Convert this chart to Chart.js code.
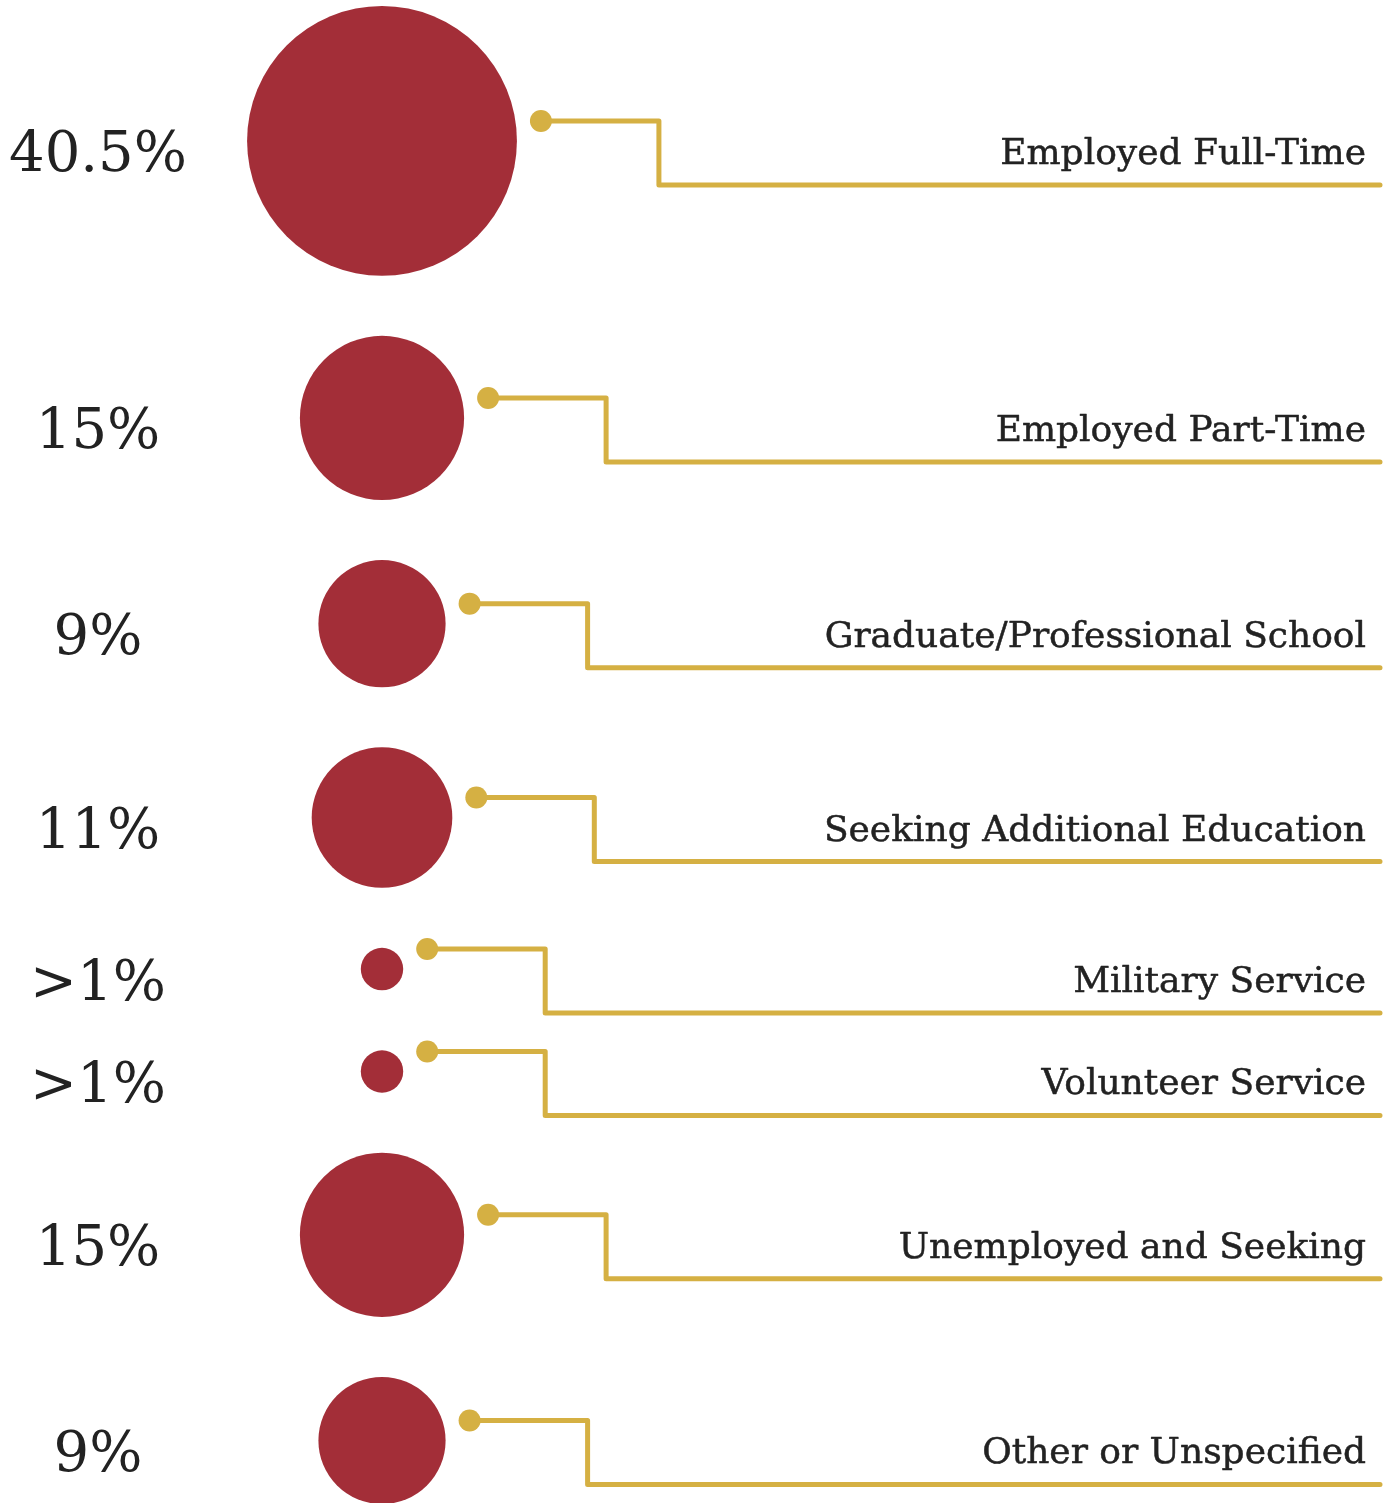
<!DOCTYPE html>
<html>
<head>
    <title>Graduate Outcomes</title>
    <script src="https://cdn.jsdelivr.net/npm/chart.js"></script>
    <style>
        body { margin: 0; background: #fff; }
        #wrap { width: 1392px; height: 1503px; position: relative; }
    </style>
</head>
<body>
    <div id="wrap"><canvas id="myChart"></canvas></div>
    <script>
        var categories = ['Employed Full-Time', 'Employed Part-Time', 'Graduate/Professional School',
            'Seeking Additional Education', 'Military Service', 'Volunteer Service',
            'Unemployed and Seeking', 'Other or Unspecified'];
        var percents = [40.5, 15, 9, 11, 1, 1, 15, 9];
        var percentLabels = ['40.5%', '15%', '9%', '11%', '>1%', '>1%', '15%', '9%'];

        var RED = '#a32e38', GOLD = '#d5b043', INK = '#222222';
        var W = 1392, H = 1503;
        var COL_X = 382;    // x of the bubble column
        var GAP = 60;       // space between neighbouring bubbles
        var R_UNIT = 21.2;  // radius of a 1% bubble (area follows the value)

        // stack the bubbles top to bottom
        var radii = percents.map(function(v) { return R_UNIT * Math.sqrt(v); });
        var ys = [];
        var cur = 6;
        radii.forEach(function(r) { cur += r; ys.push(cur); cur += r + GAP; });

        var connectors = {
            id: 'connectors',
            afterDatasetsDraw: function(chart) {
                var ctx = chart.ctx;
                var meta = chart.getDatasetMeta(0);
                meta.data.forEach(function(pt, i) {
                    var r = radii[i];
                    var dx = pt.x + r + 24, dy = pt.y - 20;
                    var stepX = dx + 118, lowY = dy + 64, endX = W - 12;
                    ctx.save();
                    ctx.strokeStyle = GOLD;
                    ctx.lineWidth = 5;
                    ctx.lineJoin = 'round';
                    ctx.lineCap = 'round';
                    ctx.beginPath();
                    ctx.moveTo(dx, dy);
                    ctx.lineTo(stepX, dy);
                    ctx.lineTo(stepX, lowY);
                    ctx.lineTo(endX, lowY);
                    ctx.stroke();
                    ctx.fillStyle = GOLD;
                    ctx.beginPath();
                    ctx.arc(dx, dy, 11, 0, 2 * Math.PI);
                    ctx.fill();

                    // category name, right aligned above the lower line
                    ctx.fillStyle = INK;
                    ctx.strokeStyle = INK;
                    ctx.lineWidth = 0.5;
                    ctx.font = '36px "DejaVu Serif"';
                    ctx.textAlign = 'right';
                    ctx.textBaseline = 'alphabetic';
                    ctx.fillText(categories[i], W - 26, lowY - 21);
                    ctx.strokeText(categories[i], W - 26, lowY - 21);

                    // percentage on the left
                    ctx.font = '56px "DejaVu Serif"';
                    ctx.textAlign = 'center';
                    ctx.textBaseline = 'middle';
                    ctx.fillText(percentLabels[i], 98, pt.y + 16);
                    ctx.restore();
                });
            }
        };

        var ctx = document.getElementById('myChart').getContext('2d');
        var myChart = new Chart(ctx, {
            type: 'bubble',
            data: {
                labels: categories,
                datasets: [{
                    label: 'Outcome',
                    data: percents.map(function(v, i) { return { x: COL_X, y: ys[i], r: radii[i] }; }),
                    backgroundColor: RED,
                    borderWidth: 0,
                    clip: false
                }]
            },
            options: {
                responsive: true,
                maintainAspectRatio: false,
                animation: false,
                layout: { padding: 0, autoPadding: false },
                plugins: { legend: { display: false }, tooltip: { enabled: false } },
                events: [],
                scales: {
                    x: { type: 'linear', min: 0, max: W, display: false },
                    y: { type: 'linear', min: 0, max: H, reverse: true, display: false }
                }
            },
            plugins: [connectors]
        });
    </script>
</body>
</html>
